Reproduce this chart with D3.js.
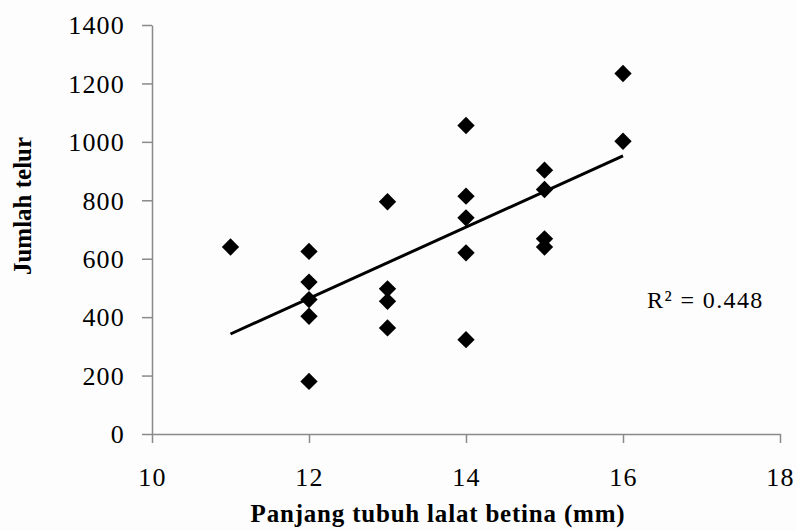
<!DOCTYPE html>
<html>
<head>
<meta charset="utf-8">
<script src="https://cdn.jsdelivr.net/npm/d3@7"></script>
<style>
  body { margin: 0; background: #fff; }
  svg { display: block; }
  text { font-family: "Liberation Serif", "Times New Roman", serif; fill: #000; }
</style>
</head>
<body>
<div id="chart"></div>
<script>
// body length (mm) and egg count
const lengths = [11, 12, 12, 12, 12, 12, 13, 13, 13, 13, 14, 14, 14, 14, 14, 15, 15, 15, 15, 16, 16];
const eggs    = [640, 625, 520, 460, 403, 180, 795, 497, 454, 363, 1056, 814, 740, 620, 323, 903, 837, 668, 640, 1234, 1002];

const xTicks = [10, 12, 14, 16, 18];
const yTicks = [0, 200, 400, 600, 800, 1000, 1200, 1400];
const rLabel = 'R\u00B2 = 0.448';

const W = 797, H = 531;
const margin = { top: 25, right: 17, bottom: 97, left: 152 };

const points = lengths.map((x, i) => ({ x: x, y: eggs[i] }));

let svg = d3.select('#chart').append('svg')
  .attr('width', W).attr('height', H);

svg.append('rect').attr('width', W).attr('height', H).attr('fill', '#fdfdfd');

let x = d3.scaleLinear().domain([10, 18]).range([margin.left, W - margin.right]);
let y = d3.scaleLinear().domain([0, 1400]).range([H - margin.bottom, margin.top]);

// ---- axes
let xAxis = svg.append('g')
  .attr('transform', 'translate(0,' + y(0) + ')')
  .call(d3.axisBottom(x).tickValues(xTicks).tickFormat(d3.format('d'))
    .tickSize(9).tickPadding(25).tickSizeOuter(0));

let yAxis = svg.append('g')
  .attr('transform', 'translate(' + x(10) + ',0)')
  .call(d3.axisLeft(y).tickValues(yTicks).tickFormat(d3.format('d'))
    .tickSize(10).tickPadding(17).tickSizeOuter(0));

[xAxis, yAxis].forEach(a => {
  a.select('.domain').attr('stroke', '#8a8a8a').attr('stroke-width', 1.5);
  a.selectAll('.tick line').attr('stroke', '#8a8a8a').attr('stroke-width', 1.5);
  a.selectAll('.tick text')
    .attr('fill', '#000')
    .style('font-family', '"Liberation Serif", serif')
    .style('font-size', '26px')
    .style('letter-spacing', '1.2px');
});
yAxis.selectAll('.tick text').attr('dy', '0.34em');

// ---- trend line (least squares)
let mx = d3.mean(points, d => d.x), my = d3.mean(points, d => d.y);
let sxy = d3.sum(points, d => (d.x - mx) * (d.y - my));
let sxx = d3.sum(points, d => (d.x - mx) * (d.x - mx));
let slope = sxy / sxx, icpt = my - slope * mx;
let xr = d3.extent(lengths);

svg.append('line')
  .attr('x1', x(xr[0])).attr('y1', y(icpt + slope * xr[0]))
  .attr('x2', x(xr[1])).attr('y2', y(icpt + slope * xr[1]))
  .attr('stroke', '#000').attr('stroke-width', 3);

// ---- markers
svg.append('g').selectAll('path')
  .data(points)
  .enter().append('path')
    .attr('d', d3.symbol(d3.symbolSquare, 150))
    .attr('transform', d => 'translate(' + x(d.x) + ',' + y(d.y) + ') rotate(45)')
    .attr('fill', '#000');

// ---- labels
svg.append('text')
  .attr('x', 438).attr('y', 522)
  .attr('text-anchor', 'middle')
  .style('font-size', '25px').style('font-weight', 'bold')
  .style('letter-spacing', '0.8px')
  .text('Panjang tubuh lalat betina (mm)');

svg.append('text')
  .attr('transform', 'translate(31,206) rotate(-90)')
  .attr('text-anchor', 'middle')
  .style('font-size', '25px').style('font-weight', 'bold')
  .text('Jumlah telur');

svg.append('text')
  .attr('x', 647).attr('y', 308)
  .style('font-size', '24px')
  .style('letter-spacing', '1.4px')
  .text(rLabel);
</script>
</body>
</html>
